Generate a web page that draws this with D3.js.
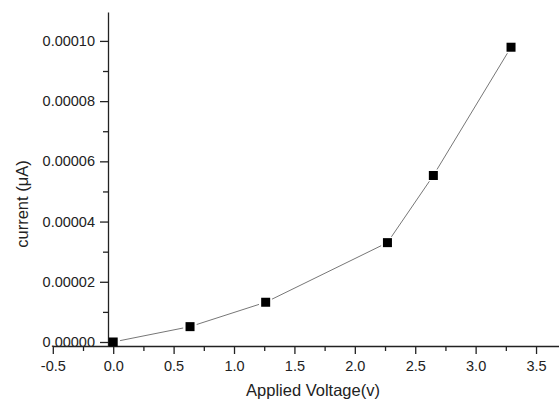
<!DOCTYPE html>
<html>
<head>
<meta charset="utf-8">
<script src="https://cdn.jsdelivr.net/npm/d3@7"></script>
<style>
html,body{margin:0;padding:0;background:#fff;}
svg{display:block;}
text{font-family:"Liberation Sans",Arial,sans-serif;fill:#222;}
</style>
</head>
<body>
<svg id="chart" width="559" height="402"></svg>
<script>
const voltage = [0, 0.636, 1.262, 2.27, 2.65, 3.293];
const current = [0.0000000, 0.0000051, 0.0000132, 0.0000330, 0.0000553, 0.0000979];
const xTicks = [-0.5, 0, 0.5, 1.0, 1.5, 2.0, 2.5, 3.0, 3.5];
const xMinor = [-0.25, 0.25, 0.75, 1.25, 1.75, 2.25, 2.75, 3.25];
const yTicks = [0, 0.00002, 0.00004, 0.00006, 0.00008, 0.00010];
const yMinor = [0.00001, 0.00003, 0.00005, 0.00007, 0.00009];
const xTitle = "Applied Voltage(v)";
const yTitle = "current (μA)";

const svg = d3.select("#chart");
const x = d3.scaleLinear().domain([-0.5, 3.7]).range([52.8, 560.2]);
const y = d3.scaleLinear().domain([-0.00000133, 0.0001096]).range([346, 12]);

const axisY = 346, axisX = 108;
const fmtX = (d) => d3.format(".1f")(d).replace("−", "-");

// X axis
const gx = svg.append("g").attr("transform", `translate(0,${axisY})`);
gx.call(d3.axisBottom(x).tickValues(xTicks).tickFormat(fmtX).tickSize(8).tickSizeOuter(0));
gx.append("g").call(d3.axisBottom(x).tickValues(xMinor).tickFormat("").tickSize(5).tickSizeOuter(0))
  .select(".domain").remove();
gx.selectAll("line,path").attr("stroke", "#222").attr("stroke-width", 1.3);
gx.selectAll("text").attr("font-size", "14.5px").attr("dy", "0.71em").attr("y", 15);

// Y axis
const gy = svg.append("g").attr("transform", `translate(${axisX},0)`);
gy.call(d3.axisLeft(y).tickValues(yTicks).tickFormat(d3.format(".5f")).tickSize(8).tickSizeOuter(0));
gy.append("g").call(d3.axisLeft(y).tickValues(yMinor).tickFormat("").tickSize(5).tickSizeOuter(0))
  .select(".domain").remove();
gy.selectAll("line,path").attr("stroke", "#222").attr("stroke-width", 1.3);
gy.selectAll("text").attr("font-size", "14.5px").attr("x", -13);

// Titles
svg.append("text").attr("x", 313).attr("y", 396).attr("text-anchor", "middle")
  .attr("font-size", "16.5px").text(xTitle);
svg.append("text").attr("transform", "translate(28,204) rotate(-90)").attr("text-anchor", "middle")
  .attr("font-size", "16.5px").text(yTitle);

// Line segments with gaps near markers
const pts = voltage.map((v, i) => [x(v), y(current[i])]);
const gap = 7;
for (let i = 0; i < pts.length - 1; i++) {
  const [x1, y1] = pts[i], [x2, y2] = pts[i + 1];
  const dx = x2 - x1, dy = y2 - y1, L = Math.hypot(dx, dy);
  const ux = dx / L, uy = dy / L;
  svg.append("line")
    .attr("x1", x1 + ux * gap).attr("y1", y1 + uy * gap)
    .attr("x2", x2 - ux * gap).attr("y2", y2 - uy * gap)
    .attr("stroke", "#777").attr("stroke-width", 1);
}

// Markers
const ms = 9;
svg.selectAll("rect.pt").data(voltage).enter().append("rect")
  .attr("class", "pt")
  .attr("x", (d) => x(d) - ms / 2)
  .attr("y", (d, i) => y(current[i]) - ms / 2)
  .attr("width", ms).attr("height", ms)
  .attr("fill", "#000");
</script>
</body>
</html>
